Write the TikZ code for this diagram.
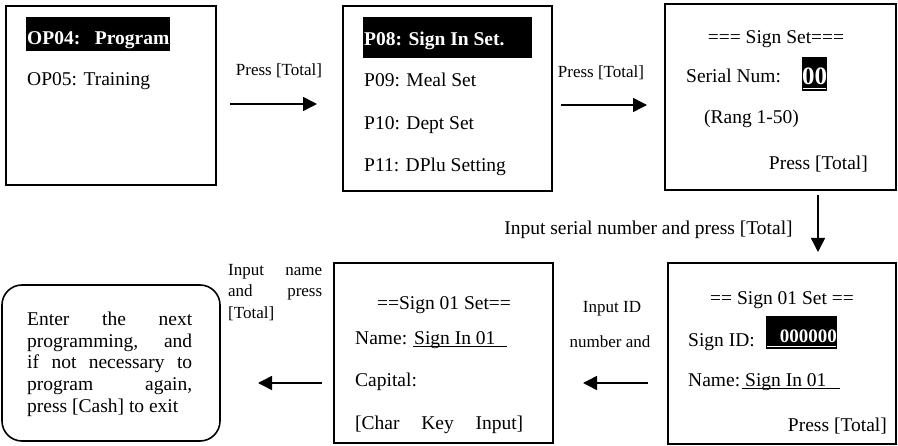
\documentclass[tikz,border=0pt]{standalone}
\usepackage{fontspec}
\setmainfont{Liberation Serif}
\usetikzlibrary{arrows.meta}
\newcommand\bxf{\fontsize{19.5}{21.75}\selectfont}
\newcommand\lbf{\fontsize{17}{21.5}\selectfont}
\tikzset{
  box/.style={draw, line width=1.6pt, inner sep=0pt},
  txt/.style={font=\bxf, inner sep=0pt, anchor=base west},
  txtc/.style={font=\bxf, inner sep=0pt, anchor=base},
  txte/.style={font=\bxf, inner sep=0pt, anchor=base east},
  lbl/.style={font=\lbf, inner sep=0pt, anchor=base},
  hl/.style={fill=black, inner sep=0pt, anchor=north west},
  flow/.style={line width=1.5pt, -{Triangle[length=14pt,width=14pt]}},
  uline/.style={line width=1pt},
}
\begin{document}
\begin{tikzpicture}[x=1pt,y=-1pt]
\useasboundingbox (0,0) rectangle (898,446);
% ---------- box 1
\node[box, minimum width=210pt, minimum height=179pt] (b1) at (111,95.5) {};
\node[hl, minimum width=144pt, minimum height=34pt] (h1) at (26,17) {};
\node[txt, text=white, font=\bxf\bfseries] (t1a) at (27,45) {OP04:\hspace{0.75em}Program};
\node[txt] (t1b) at (27,86) {OP05: Training};
% arrow 1
\coordinate (a1s) at (230,104);
\coordinate (a1e) at (317,104);
\draw[flow] (a1s) -- (a1e);
\node[lbl] (l1) at (279,76) {Press [Total]};
% ---------- box 2
\node[box, minimum width=209pt, minimum height=185pt] (b2) at (447.5,98.5) {};
\node[hl, minimum width=169pt, minimum height=41pt] (h2) at (363,17) {};
\node[txt, text=white, font=\bxf\bfseries] (t2a) at (364,46) {P08: Sign In Set.};
\node[txt] (t2b) at (364,87) {P09: Meal Set};
\node[txt] (t2c) at (364,130) {P10: Dept Set};
\node[txt] (t2d) at (364,172) {P11: DPlu Setting};
% arrow 2
\coordinate (a2s) at (561,105);
\coordinate (a2e) at (647,105);
\draw[flow] (a2s) -- (a2e);
\node[lbl] (l2) at (601,78) {Press [Total]};
% ---------- box 3
\node[box, minimum width=231pt, minimum height=186pt] (b3) at (780.5,97) {};
\node[txtc] (t3a) at (776,44) {=== Sign Set===};
\node[txt] (t3b) at (686,83) {Serial Num:};
\node[hl, minimum width=25pt, minimum height=34pt] (h3) at (802,57) {};
\node[txtc, text=white, font=\fontsize{25}{25}\selectfont\bfseries] (t3c) at (814.5,85) {00};
\draw[uline, white] (803,88.5) -- (826,88.5);
\node[txt] (t3d) at (704,124) {(Rang 1-50)};
\node[txte] (t3e) at (868,170) {Press [Total]};
% arrow 3
\coordinate (a3s) at (818,195);
\coordinate (a3e) at (818,252);
\draw[flow] (a3s) -- (a3e);
\node[txtc] (l3) at (648.5,235) {Input serial number and press [Total]};
% ---------- box 6 (bottom right)
\node[box, minimum width=228pt, minimum height=181pt] (b6) at (782,353.5) {};
\node[txtc] (t6a) at (782,305) {== Sign 01 Set ==};
\node[txt] (t6b) at (688,347) {Sign ID:};
\node[hl, minimum width=71pt, minimum height=33pt] (h6) at (766,316) {};
\node[txte, text=white, font=\fontsize{19}{21}\selectfont\bfseries] (t6c) at (837,343) {000000};
\draw[uline, white] (767,347) -- (836,347);
\node[txt] (t6d) at (688,387) {Name:};
\node[txt] (t6e) at (745,387) {Sign In 01};
\draw[uline] (742,389) -- (840,389);
\node[txte] (t6f) at (887,432) {Press [Total]};
% arrow 4
\coordinate (a4s) at (648,383);
\coordinate (a4e) at (583,383);
\draw[flow] (a4s) -- (a4e);
\node[lbl] (l4a) at (612,313) {Input ID};
\node[lbl] (l4b) at (610,348) {number and};
% ---------- box 5 (bottom middle)
\node[box, minimum width=219pt, minimum height=180pt] (b5) at (443.5,353) {};
\node[txtc] (t5a) at (444,310) {==Sign 01 Set==};
\node[txt] (t5b) at (355,345) {Name:};
\node[txt] (t5c) at (414,345) {Sign In 01};
\draw[uline] (413,347) -- (507,347);
\node[txt] (t5d) at (355,387) {Capital:};
\node[txt] (t5e) at (355,430) {\makebox[168pt][s]{[Char Key Input]}};
% arrow 5
\coordinate (a5s) at (322,383);
\coordinate (a5e) at (258,383);
\draw[flow] (a5s) -- (a5e);
\node[font=\lbf, inner sep=0pt, anchor=north west, align=left] (l5) at (228,263.7)
  {\makebox[94pt][s]{Input name}\\\makebox[94pt][s]{and press}\\{}[Total]};
% ---------- box 4 (rounded)
\node[box, rounded corners=20pt, minimum width=218pt, minimum height=156pt] (b4) at (111,363) {};
\node[font=\bxf, inner sep=0pt, anchor=north west, align=left] (t4) at (27,311.7)
  {\makebox[165pt][s]{Enter the next}\\
   \makebox[165pt][s]{programming, and}\\
   \makebox[165pt][s]{if not necessary to}\\
   \makebox[165pt][s]{program again,}\\
   press [Cash] to exit};
\end{tikzpicture}
\end{document}
